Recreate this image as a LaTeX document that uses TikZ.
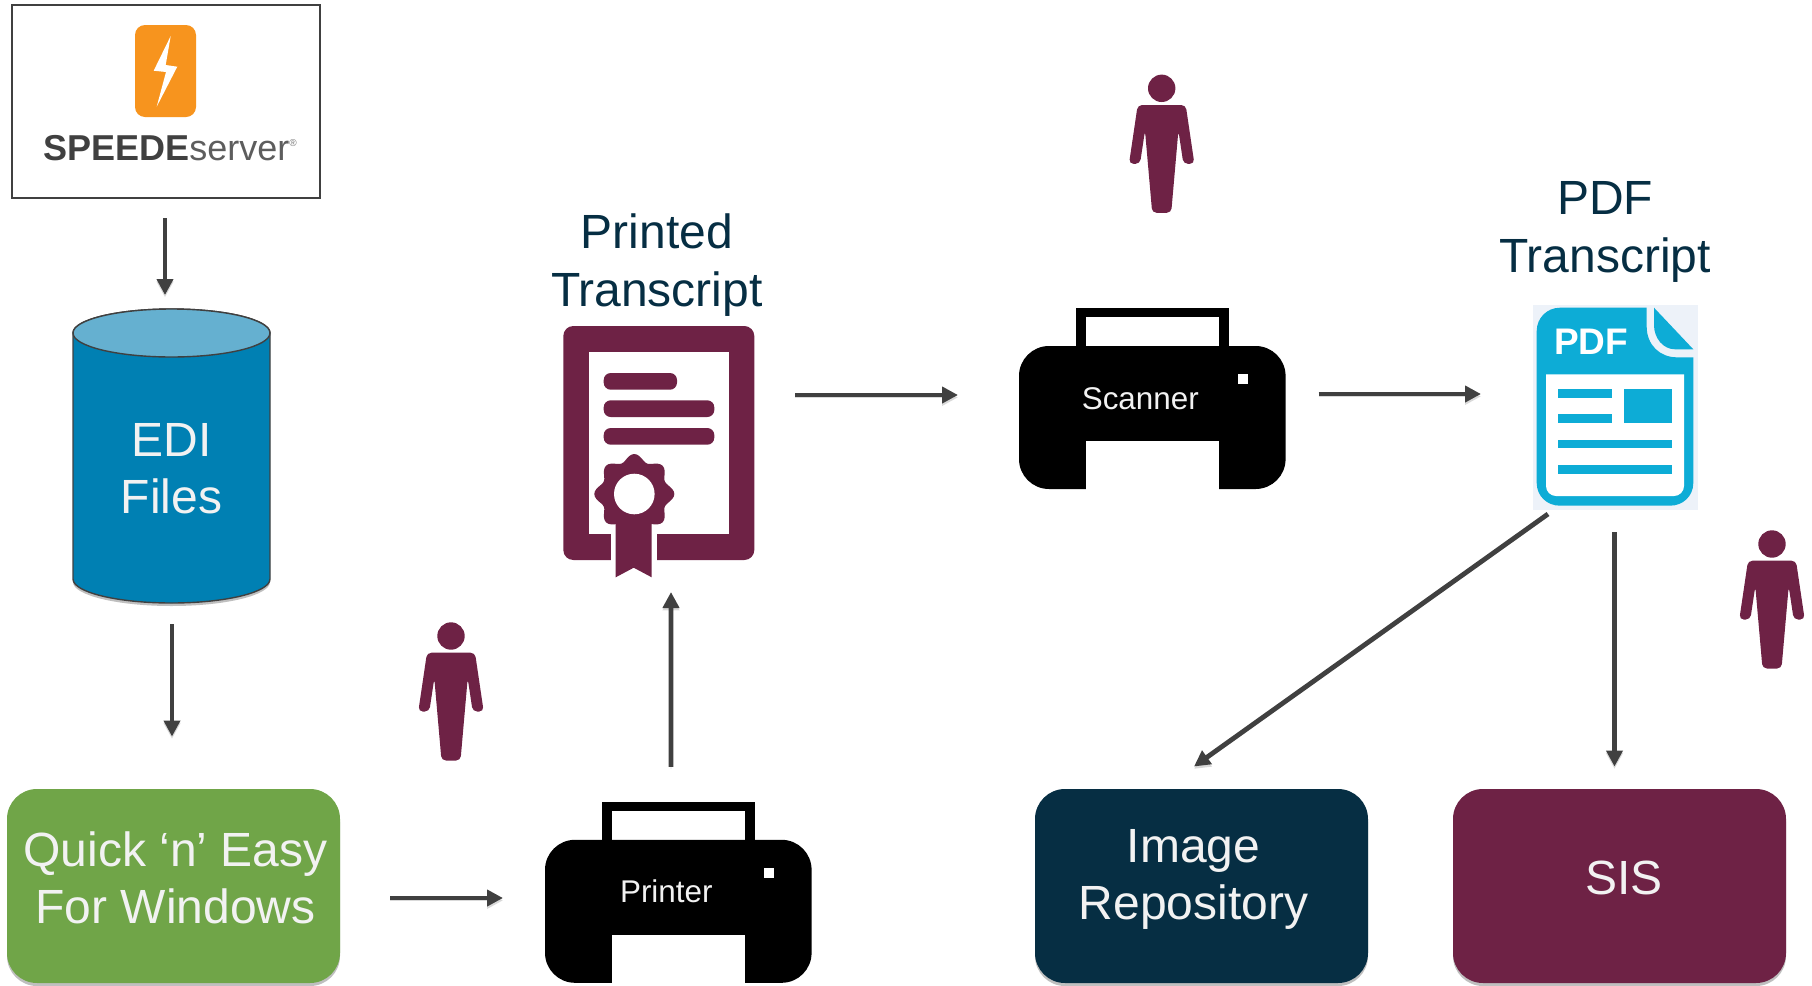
\documentclass[tikz,border=0pt]{standalone}
\usepackage{fontspec}
\setmainfont{Liberation Sans}
\usetikzlibrary{positioning,arrows.meta,calc,shadows}
\definecolor{quickgreen}{HTML}{70A548}
\definecolor{navyblue}{HTML}{062E43}
\definecolor{plumred}{HTML}{6E2245}
\definecolor{cylbody}{HTML}{0080B3}
\definecolor{cyltop}{HTML}{65B0D0}
\definecolor{boltorange}{HTML}{F7941E}
\definecolor{pdfblue}{HTML}{0DACD6}
\definecolor{pdfback}{HTML}{EDF2F9}
\definecolor{arrgray}{HTML}{404040}
\definecolor{softwhite}{HTML}{F2F2F2}

\begin{document}
\begin{tikzpicture}[
    x=0.5pt, y=-0.5pt,
    >=Stealth,
    every node/.style={outer sep=0pt},
    softshadow/.style={drop shadow={shadow xshift=0pt, shadow yshift=-1.5pt, opacity=0.25, fill=black}},
    panel/.style={
        fill=#1, rounded corners=15pt, softshadow,
        minimum width=166.5pt, minimum height=97pt
    },
    paneltext/.style={
        align=center, inner sep=0pt, text=softwhite, font=\fontsize{24}{28.5}\selectfont
    },
    dbcyl/.style={
        minimum width=98.5pt, minimum height=147pt, inner sep=0pt
    },
    logobox/.style={
        draw=arrgray, line width=0.8pt, fill=white,
        minimum width=154pt, minimum height=96.5pt
    },
    coltitle/.style={
        align=center, inner sep=0pt, text=navyblue, font=\fontsize{24}{28.8}\selectfont
    },
    arr/.style={
        -{Triangle[length=8pt, width=8pt]}, line width=2.4pt, color=arrgray,
        preaction={draw=black!15, transform canvas={yshift=-1.2pt}}
    },
    pics/printerpic/.style={code={
        \fill[black] (-76.3,-109.5) rectangle (76.7,-60);
        \fill[white] (-66.8,-100.2) rectangle (66.8,-60);
        \node[fill=black, rounded corners=15pt, minimum width=133.3pt, minimum height=71.5pt] (-body) at (0,0) {};
        \fill[white] (-66.8,23.5) rectangle (66.8,72);
        \fill[white] (85.4,-43.2) rectangle (96,-33.2);
        \node[text=softwhite, font=\fontsize{15.7}{18}\selectfont, anchor=base, inner sep=0pt] (-label) at (-12,-8.5) {#1};
    }},
    pics/personpic/.style={code={
        \fill[plumred] (0,0) circle[radius=13.7];
        \fill[plumred, rounded corners=2.2pt]
            (-24,16.7) -- (24,16.7) -- (32.7,75.5) -- (21.7,75.5) -- (16.7,42.3)
            -- (9.5,124.5) -- (-9.5,124.5) -- (-16.7,42.3) -- (-21.7,75.5) -- (-32.7,75.5) -- cycle;
    }},
]
\useasboundingbox (0,0) rectangle (1812,986);

% === Bottom row boxes ===
\node[panel=quickgreen, label={[name=quicktext, paneltext, xshift=1pt, yshift=4pt]center:Quick ‘n’ Easy\\For Windows}] (quick) at (173.5,886) {};
\node[panel=navyblue, label={[name=imagetext, paneltext, xshift=-4pt, yshift=3.2pt]center:Image\\Repository}] (image) at (1201.5,886) {};
\node[panel=plumred, right=42.5pt of image, label={[name=sistext, paneltext, xshift=2.3pt, yshift=4pt]center:SIS}] (sis) {};

% === Left column ===
\node[dbcyl, above=93pt of quick, xshift=-1pt] (edi) {};
\fill[black, opacity=0.25] (171.5,582) ellipse[x radius=98.5, y radius=24];
\draw[draw=arrgray, line width=0.7pt, fill=cylbody] (73,333) -- (73,579)
    arc[start angle=180, end angle=0, x radius=98.5, y radius=24] -- (270,333)
    arc[start angle=0, end angle=-180, x radius=98.5, y radius=24] -- cycle;
\draw[draw=arrgray, line width=0.7pt, fill=cyltop] (171.5,333) ellipse[x radius=98.5, y radius=24];
\node[paneltext, yshift=-6.5pt] (editext) at (edi) {EDI\\Files};
\node[logobox, above=55.5pt of edi, xshift=-2.75pt] (speede) {};

% Logo inside the box
\node[fill=boltorange, rounded corners=5pt, minimum width=30.5pt, minimum height=46pt] (bolt) at (165.5,71) {};
\fill[white] (170.7,36) -- (153.7,70.7) -- (166,72) -- (156.7,106.7) -- (177.3,66.7) -- (165.7,65) -- cycle;
\node[anchor=base, inner sep=0pt, font=\fontsize{18}{20}\selectfont] (speedetext) at (170,160)
    {\textbf{\textcolor{arrgray}{SPEEDE}}\textcolor{arrgray!85}{server}\raisebox{7pt}{\textcolor{arrgray!70}{\fontsize{5}{5}\selectfont ®}}};

% === Printer, certificate ===
\pic (printer) at (678.3,911.3) {printerpic={Printer}};
\pic at (451,636) {personpic};

\node[fill=plumred, rounded corners=5pt, minimum width=95.5pt, minimum height=117pt] (cert) at (658.8,443) {};
\node[coltitle, above=5pt of cert, xshift=-1pt] (certtitle) {Printed\\Transcript};
\fill[white] (589,352.3) rectangle (729.3,534.3);
\fill[white] (611.3,530) rectangle (656.7,561);
\fill[plumred, rounded corners=3.5pt] (603.7,373) rectangle (677,389.7);
\fill[plumred, rounded corners=3.5pt] (603.7,400.3) rectangle (714.3,417);
\fill[plumred, rounded corners=3.5pt] (603.7,428) rectangle (714.3,444.7);
\fill[plumred] plot[domain=0:360, samples=97, smooth]
    ({634.3+(36.5+3.5*cos(8*\x))*cos(\x)},{494+(36.5+3.5*cos(8*\x))*sin(\x)}) -- cycle;
\fill[white] (634.3,494) circle[radius=20.3];
\fill[plumred] (615.7,520) -- (651.7,520) -- (651.7,577.3) -- (633.7,567.7) -- (615.7,577.3) -- cycle;

% === Scanner ===
\pic (scanner) at (1152.3,417.5) {printerpic={Scanner}};
\pic at (1161.7,88.3) {personpic};

% === PDF document ===
\node[fill=pdfback, minimum width=82.5pt, minimum height=102.5pt] (pdf) at (1615.5,407.5) {};
\node[coltitle, above=11.5pt of pdf, xshift=-5.2pt] (pdftitle) {PDF\\Transcript};
\fill[pdfblue] (1560,307.7) -- (1646.7,307.7) -- (1646.7,326.7)
    .. controls (1646.7,345) and (1660,357.3) .. (1676.7,357.3)
    -- (1693.3,357.3) -- (1693.3,483)
    .. controls (1693.3,496) and (1683,505.7) .. (1670,505.7)
    -- (1560,505.7)
    .. controls (1547,505.7) and (1536.7,496) .. (1536.7,483)
    -- (1536.7,331)
    .. controls (1536.7,318) and (1547,307.7) .. (1560,307.7) -- cycle;
\fill[pdfblue] (1654,307.7) -- (1693.3,349.3) -- (1675,349.3)
    .. controls (1663,349.3) and (1654,338) .. (1654,325) -- cycle;
\fill[white] (1546,374.3) -- (1684,374.3) [rounded corners=5pt] -- (1684,496) -- (1546,496) [sharp corners] -- cycle;
\fill[pdfblue] (1558.3,389.3) rectangle (1612.3,397.7);
\fill[pdfblue] (1558.3,414.3) rectangle (1612.3,423);
\fill[pdfblue] (1623.7,389.3) rectangle (1672,423);
\fill[pdfblue] (1558.3,440) rectangle (1672,448.3);
\fill[pdfblue] (1558.3,465.3) rectangle (1672,473.7);
\node[anchor=base west, inner sep=0pt, text=white, font=\fontsize{18.5}{20}\selectfont\bfseries] (pdftext) at (1554.3,354.3) {PDF};
\pic at (1772,544) {personpic};

% === Connectors ===
\draw[arr] ($(speede.south)+(-1,20)$) -- ($(edi.north)+(-6.5,-14)$);
\draw[arr] ($(edi.south)+(0.5,21)$) -- ($(quick.north)+(-1.5,-52.5)$);
\draw[arr] ($(quick.east)+(50,12)$) -- ($(printer-body.west)+(-42,-13.3)$);
\draw[arr] ($(printer-body.north)+(-7.3,-73)$) -- ($(cert.south)+(12.2,32)$);
\draw[arr] ($(cert.east)+(40.7,-48)$) -- ($(scanner-body.west)+(-61,-22.5)$);
\draw[arr] ($(scanner-body.east)+(33,-23.5)$) -- ($(pdf.west)+(-52,-13.5)$);
\draw[arr] ($(pdf.south)+(-67.5,4)$) -- ($(image.north)+(-7.5,-22.5)$);
\draw[arr] ($(pdf.south)+(-1,22)$) -- ($(sis.north)+(-5,-22.5)$);

\end{tikzpicture}
\end{document}
